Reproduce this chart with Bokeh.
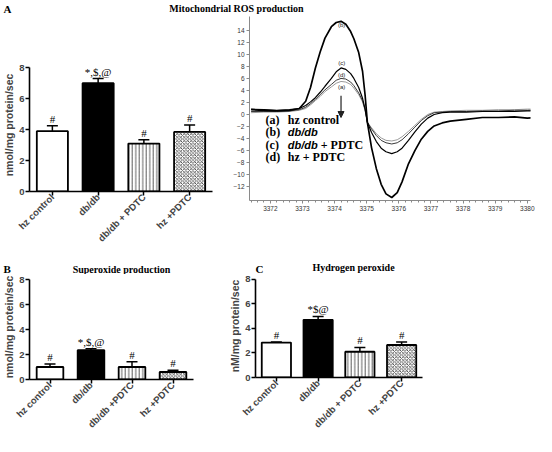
import math
from bokeh.plotting import figure
from bokeh.models import (ColumnDataSource, FactorRange, Range1d, FixedTicker, Whisker,
                          TeeHead, Arrow, NormalHead)
from bokeh.layouts import row, column
from bokeh.core.properties import value
from bokeh.embed import file_html
from bokeh.resources import INLINE

# ---------------- data ----------------
groups_A = ["hz control", "db/db", "db/db + PDTC", "hz +PDTC"]
ros_mean = [3.9, 7.0, 3.1, 3.85]
ros_sem = [0.35, 0.3, 0.25, 0.45]
ros_marks = ["#", "*,$,@", "#", "#"]

groups_B = ["hz control", "db/db", "db/db +PDTC", "hz +PDTC"]
sup_mean = [1.0, 2.35, 1.0, 0.6]
sup_sem = [0.25, 0.12, 0.42, 0.15]
sup_marks = ["#", "*,$,@", "#", "#"]

groups_C = ["hz control", "db/db", "db/db + PDTC", "hz +PDTC"]
h2o2_mean = [2.85, 4.7, 2.1, 2.65]
h2o2_sem = [0.05, 0.28, 0.35, 0.25]
h2o2_marks = ["#", "*$@", "#", "#"]

bar_y_ticks = [0, 2, 4, 6, 8]

# ESR spectra (magnetic field, G) and signal intensity
field = [3371.4, 3371.8, 3372.2, 3372.6, 3372.9, 3373.1, 3373.25, 3373.4, 3373.55, 3373.7,
         3373.9, 3374.05, 3374.2, 3374.35, 3374.5, 3374.6, 3374.75, 3374.87, 3374.95, 3375.02,
         3375.15, 3375.3, 3375.45, 3375.6, 3375.78, 3375.95, 3376.1, 3376.3, 3376.5, 3376.7,
         3376.9, 3377.1, 3377.35, 3377.6, 3378.1, 3378.6, 3379.1, 3379.6, 3380.0, 3380.45]
esr_a = [0.3, 0.4, 0.4, 0.5, 0.7, 1.0, 1.6, 2.3, 3.0, 3.8, 4.6, 5.2, 5.5, 5.4, 5.0, 4.4, 3.3, 2.1, 0.6, -1.3,
         -2.2, -3.2, -3.9, -4.3, -4.4, -4.2, -3.7, -2.8, -1.8, -0.8, 0.0, 0.4, 0.5, 0.6, 0.7, 0.7, 0.8, 0.8, 0.9, 0.9]
esr_b = [0.8, 0.7, 0.6, 0.7, 1.0, 2.2, 4.5, 7.7, 10.4, 12.7, 14.6, 15.3, 15.5, 15.0, 13.8, 12.6, 10.3, 7.2, 3.2, -1.3,
         -5.5, -9.0, -11.6, -13.2, -13.8, -13.0, -11.2, -8.2, -6.0, -4.1, -2.8, -1.9, -1.4, -1.1, -0.8, -0.5, -0.5, -0.4, -0.6, -0.5]
esr_c = [0.9, 0.8, 0.7, 0.8, 1.0, 1.5, 2.1, 2.8, 3.7, 4.7, 6.0, 7.1, 7.75, 7.5, 6.8, 6.0, 4.5, 2.7, 0.9, -1.3,
         -3.0, -4.5, -5.6, -6.2, -6.5, -6.2, -5.6, -4.3, -2.9, -1.6, -0.6, 0.0, 0.3, 0.4, 0.4, 0.5, 0.5, 0.5, 0.6, 0.6]
esr_d = [0.5, 0.5, 0.5, 0.6, 0.8, 1.2, 1.8, 2.5, 3.3, 4.1, 5.0, 5.7, 6.0, 5.9, 5.4, 4.8, 3.6, 2.3, 0.8, -1.3,
         -2.4, -3.5, -4.3, -4.7, -4.9, -4.7, -4.2, -3.2, -2.1, -1.0, -0.2, 0.3, 0.4, 0.5, 0.5, 0.6, 0.6, 0.7, 0.7, 0.8]
esr_x_ticks = [3372, 3373, 3374, 3375, 3376, 3377, 3378, 3379, 3380]
esr_y_ticks = [-12, -10, -8, -6, -4, -2, 0, 2, 4, 6, 8, 10, 12, 14]

curve_tags = ["(b)", "(c)", "(d)", "(a)"]
legend_keys = ["(a)", "(b)", "(c)", "(d)"]
legend_italic = ["", "db/db", "db/db", ""]
legend_rest = ["hz control", "", "+ PDTC", "hz + PDTC"]

panel_letters_top = ["A"]
panel_titles_top = ["Mitochondrial ROS production"]
panel_letters_bottom = ["B", "C"]
panel_titles_bottom = ["Superoxide production", "Hydrogen peroxide"]

SERIF = "Liberation Serif"
SANS = "Liberation Sans"

bar_fill = ["white", "black", "white", "white"]
bar_hatch = ["blank", "blank", "vertical_line", "diagonal_cross"]


def header(width, height, letters, letter_x, letter_y, titles, title_x, title_y):
    h = figure(width=width, height=height, x_range=Range1d(0, width), y_range=Range1d(height, 0),
               x_axis_type=None, y_axis_type=None, output_backend="svg", toolbar_location=None,
               tools="", min_border=0, frame_align=False)
    h.outline_line_color = None
    h.grid.visible = False
    h.text(x=letter_x, y=letter_y, text=letters, text_align="left", text_baseline="middle",
           text_font=value(SERIF), text_font_style="bold", text_font_size="11px", text_color="black")
    h.text(x=title_x, y=title_y, text=titles, text_align="center", text_baseline="middle",
           text_font=value(SERIF), text_font_style="bold", text_font_size="10px", text_color="black")
    return h


def bar_panel(width, height, groups, means, sems, marks, ylabel, borders, ymax, bar_w):
    left, right, top, bottom = borders
    p = figure(width=width, height=height, x_range=FactorRange(*groups, range_padding=0),
               y_range=Range1d(0, ymax), output_backend="svg", toolbar_location=None, tools="",
               min_border_left=left, min_border_right=right, min_border_top=top,
               min_border_bottom=bottom, frame_align=False)
    p.outline_line_color = None
    p.grid.visible = False
    src = ColumnDataSource(dict(x=groups, top=means,
                                upper=[m + s for m, s in zip(means, sems)],
                                mark=marks, fill=bar_fill, hatch=bar_hatch))
    p.vbar(x="x", top="top", bottom=0, width=bar_w, source=src, fill_color="fill",
           line_color="black", line_width=1.8, hatch_pattern="hatch", hatch_color="#333333",
           hatch_scale=3.5, hatch_weight=0.8)
    p.add_layout(Whisker(source=src, base="x", upper="upper", lower="top", dimension="height",
                         line_color="black", line_width=1.5, lower_head=None,
                         upper_head=TeeHead(size=11, line_width=1.5, line_color="black")))
    p.text(x="x", y="upper", text="mark", source=src, text_align="center",
           text_baseline="bottom", y_offset=-1, text_font=value(SERIF),
           text_font_size="11px", text_color="black")
    ax = p.yaxis[0]
    ax.ticker = FixedTicker(ticks=bar_y_ticks)
    ax.bounds = (0, 8)
    ax.axis_label = ylabel
    ax.axis_label_text_font = SANS
    ax.axis_label_text_font_style = "bold"
    ax.axis_label_text_font_size = "10.5px"
    ax.axis_label_standoff = 1
    ax.major_label_text_font = SANS
    ax.major_label_text_font_style = "bold"
    ax.major_label_text_font_size = "9.5px"
    ax.major_label_standoff = 1
    ax.major_tick_out = 4
    ax.major_tick_in = 0
    ax.minor_tick_out = 0
    ax.minor_tick_in = 0
    ax.axis_line_width = 1.6
    ax.major_tick_line_width = 1.5
    xa = p.xaxis[0]
    xa.major_label_orientation = math.pi / 4
    xa.major_label_text_font = SANS
    xa.major_label_text_font_style = "bold"
    xa.major_label_text_font_size = "9.5px"
    xa.major_label_standoff = 0
    xa.major_tick_out = 4
    xa.major_tick_in = 0
    xa.axis_line_width = 1.6
    xa.major_tick_line_width = 1.5
    return p


# ---------------- top header ----------------
hTop = header(536, 16, panel_letters_top, [3], [8], panel_titles_top, [236], [8])

# ---------------- panel A (bar) ----------------
pA = bar_panel(230, 236, groups_A, ros_mean, ros_sem, ros_marks, "nmol/mg protein/sec",
               (23, 18, 42, 61), 8.6, 0.68)

# ---------------- panel A (ESR spectra) ----------------
pS = figure(width=306, height=236, x_range=Range1d(3371.35, 3380.1), y_range=Range1d(-14.3, 16.3),
            output_backend="svg", toolbar_location=None, tools="", frame_align=False,
            min_border_left=19, min_border_right=6, min_border_top=0, min_border_bottom=52)
pS.outline_line_color = None
pS.grid.visible = False
pS.line(field, esr_a, line_color="#9a9a9a", line_width=1.0)
pS.line(field, esr_d, line_color="#3a3a3a", line_width=1.0)
pS.line(field, esr_c, line_color="black", line_width=1.2)
pS.line(field, esr_b, line_color="black", line_width=1.7)
tag_src = ColumnDataSource(dict(x=[3374.22] * 4, y=[14.9, 8.6, 6.5, 4.6], t=curve_tags))
pS.text(x="x", y="y", text="t", source=tag_src, text_align="center", text_baseline="middle",
        text_font=value(SANS), text_font_size="6px", text_color="#222222")
pS.add_layout(Arrow(x_start=3374.2, y_start=3.1, x_end=3374.2, y_end=-0.5, line_width=1.2,
                    line_color="#222222",
                    end=NormalHead(size=6, fill_color="#222222", line_color="#222222")))
leg_y = [-0.9, -2.95, -5.05, -7.05]
key_src = ColumnDataSource(dict(x=[3371.85] * 4, y=leg_y, t=legend_keys))
pS.text(x="x", y="y", text="t", source=key_src, text_baseline="middle",
        text_font=value(SERIF), text_font_style="bold", text_font_size="12px", text_color="black")
ital_src = ColumnDataSource(dict(x=[3372.54] * 4, y=leg_y, t=legend_italic))
pS.text(x="x", y="y", text="t", source=ital_src, text_baseline="middle",
        text_font=value(SANS), text_font_style="bold italic", text_font_size="11px",
        text_color="black")
rest_off = [0, 0, 33, 0]
rest_src = ColumnDataSource(dict(x=[3372.54] * 4, y=leg_y, t=legend_rest, off=rest_off))
pS.text(x="x", y="y", text="t", source=rest_src, x_offset="off", text_baseline="middle",
        text_font=value(SERIF), text_font_style="bold", text_font_size="12px", text_color="black")
for ax in (pS.xaxis[0], pS.yaxis[0]):
    ax.axis_line_color = "#8a8a8a"
    ax.major_tick_line_color = "#8a8a8a"
    ax.minor_tick_line_color = "#8a8a8a"
    ax.major_label_text_font = SANS
    ax.major_label_text_font_size = "6.5px"
    ax.major_label_text_color = "#333333"
    ax.major_label_standoff = 2
    ax.major_tick_out = 3
    ax.major_tick_in = 0
    ax.minor_tick_out = 2
    ax.minor_tick_in = 0
pS.xaxis[0].ticker = FixedTicker(ticks=esr_x_ticks,
                                 minor_ticks=[t + k / 5 for t in [3371] + esr_x_ticks for k in range(1, 5)])
pS.yaxis[0].ticker = FixedTicker(ticks=esr_y_ticks, minor_ticks=[])

# ---------------- bottom header ----------------
hBot = header(536, 22, panel_letters_bottom, [3, 255], [16, 16],
              panel_titles_bottom, [121, 353], [17, 15])

# ---------------- panel B ----------------
pB = bar_panel(226, 162, groups_B, sup_mean, sup_sem, sup_marks, "nmol/mg protein/sec",
               (23, 33, 0, 55), 8.4, 0.65)

# ---------------- panel C ----------------
pC = bar_panel(310, 162, groups_C, h2o2_mean, h2o2_sem, h2o2_marks, "nM/mg protein/sec",
               (23, 114, 0, 55), 8.4, 0.7)

layout = column(hTop, row(pA, pS), hBot, row(pB, pC))
open("out.html", "w").write(file_html(layout, INLINE))
